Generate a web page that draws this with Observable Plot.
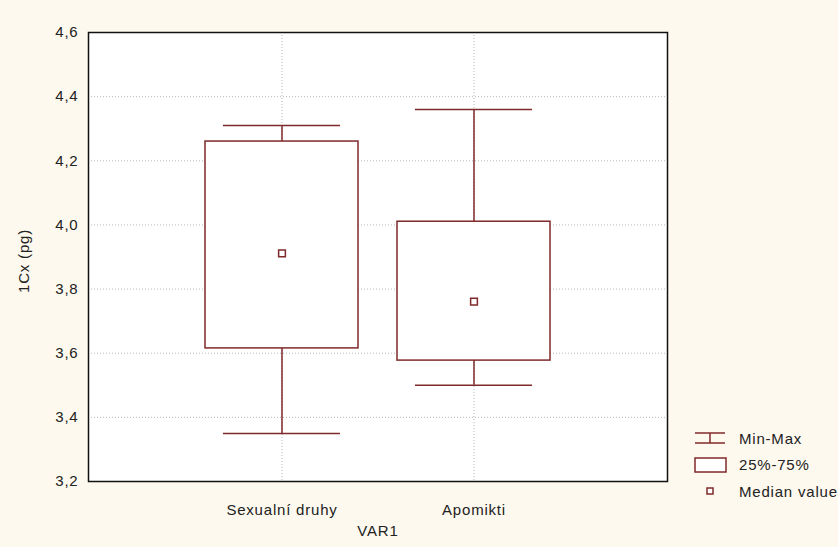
<!DOCTYPE html>
<html>
<head>
<meta charset="utf-8">
<script src="https://cdn.jsdelivr.net/npm/d3@7"></script>
<script src="https://cdn.jsdelivr.net/npm/@observablehq/plot@0.6"></script>
<style>
  html, body { margin: 0; padding: 0; background: #fdf9ee; }
  #wrap { position: relative; width: 838px; height: 547px; }
  #legend { position: absolute; left: 690px; top: 425px; font-family: "Liberation Sans", Arial, sans-serif; font-size: 15px; letter-spacing: 0.8px; color: #222; }
  .row { display: flex; align-items: center; height: 26.5px; }
  .row svg { width: 40px; height: 20px; margin-right: 9px; }
</style>
</head>
<body>
<div id="wrap">
  <div id="chart"></div>
  <div id="legend"></div>
</div>
<script>
const categories = ["Sexualní druhy", "Apomikti"];
const minValues = [3.35, 3.50];
const q1Values = [3.615, 3.577];
const medianValues = [3.911, 3.761];
const q3Values = [4.26, 4.01];
const maxValues = [4.31, 4.36];
const yTicks = [3.2, 3.4, 3.6, 3.8, 4.0, 4.2, 4.4, 4.6];
const legendLabels = ["Min-Max", "25%-75%", "Median value"];
const xTitle = "VAR1";
const yTitle = "1Cx (pg)";

const rows = categories.map((c, i) => ({
  cat: c, min: minValues[i], q1: q1Values[i], med: medianValues[i], q3: q3Values[i], max: maxValues[i]
}));

const maroon = "#7f2a2a";
const fontFamily = "'Liberation Sans', Arial, sans-serif";

const chart = Plot.plot({
  width: 838,
  height: 547,
  marginLeft: 88,
  marginRight: 171,
  marginTop: 32,
  marginBottom: 66,
  style: { background: "#fdf9ee", fontFamily, fontSize: "15px", color: "#222", letterSpacing: "0.8px" },
  x: { type: "band", domain: categories, paddingInner: 0.203, paddingOuter: 0.609 },
  y: { domain: [3.2, 4.6] },
  marks: [
    Plot.frame({ fill: "white" }),
    Plot.gridY(yTicks, { stroke: "#b8b8b8", strokeOpacity: 1, strokeDasharray: "1,2" }),
    Plot.gridX({ stroke: "#b8b8b8", strokeOpacity: 1, strokeDasharray: "1,2" }),
    Plot.ruleX(rows, { x: "cat", y1: "min", y2: "max", stroke: maroon, strokeWidth: 1.5 }),
    Plot.barY(rows, { x: "cat", y1: "q1", y2: "q3", fill: "white", stroke: maroon, strokeWidth: 1.5 }),
    Plot.tickY(rows, { x: "cat", y: "min", stroke: maroon, strokeWidth: 1.5, insetLeft: 18, insetRight: 18 }),
    Plot.tickY(rows, { x: "cat", y: "max", stroke: maroon, strokeWidth: 1.5, insetLeft: 18, insetRight: 18 }),
    Plot.dot(rows, { x: "cat", y: "med", symbol: "square", r: 3.8, fill: "white", stroke: maroon, strokeWidth: 1.5 }),
    Plot.frame({ stroke: "#111", strokeWidth: 1.5 }),
    Plot.axisY(yTicks, { tickSize: 0, tickPadding: 10, label: null, tickFormat: d => d.toFixed(1).replace(".", ","), fill: "#222" }),
    Plot.axisX({ tickSize: 0, tickPadding: 23, label: null, fill: "#222" }),
    Plot.text([xTitle], { frameAnchor: "bottom", dy: 54, fill: "#222" }),
    Plot.text([yTitle], { frameAnchor: "left", textAnchor: "middle", dx: -64, dy: 4, rotate: -90, fill: "#222" })
  ]
});
document.getElementById("chart").appendChild(chart);

// Legend
const icons = [
  `<svg viewBox="0 0 40 20"><line x1="5" y1="5" x2="35" y2="5" stroke="${maroon}" stroke-width="1.5"/><line x1="5" y1="15" x2="35" y2="15" stroke="${maroon}" stroke-width="1.5"/><line x1="20" y1="5" x2="20" y2="15" stroke="${maroon}" stroke-width="1.5"/></svg>`,
  `<svg viewBox="0 0 40 20"><rect x="5" y="3" width="31" height="14" fill="white" stroke="${maroon}" stroke-width="1.5"/></svg>`,
  `<svg viewBox="0 0 40 20"><rect x="17" y="7" width="6" height="6" fill="white" stroke="${maroon}" stroke-width="1.5"/></svg>`
];
document.getElementById("legend").innerHTML = legendLabels.map((l, i) =>
  `<div class="row">${icons[i]}<span>${l}</span></div>`).join("");
</script>
</body>
</html>
